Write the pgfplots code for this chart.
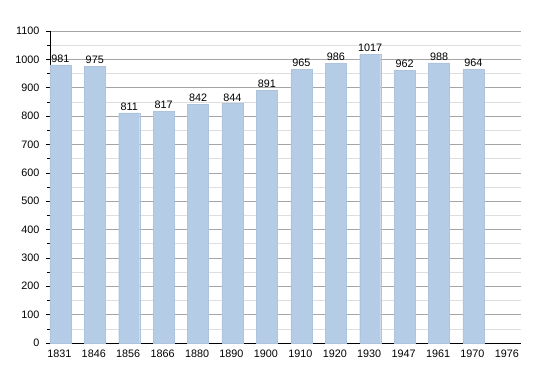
\documentclass[border=0pt]{standalone}
\usepackage{pgfplots}
\pgfplotsset{compat=1.18}
\usepackage{fontspec}
\setmainfont{Liberation Sans}
\definecolor{barblue}{RGB}{180,204,230}
\definecolor{majgrid}{RGB}{165,165,165}
\definecolor{mingrid}{RGB}{222,222,222}
\begin{document}
\begin{tikzpicture}[x=1pt,y=1pt]
\useasboundingbox (0,0) rectangle (550,373);
\begin{axis}[
  at={(50pt,30pt)}, anchor=south west,
  scale only axis, width=471pt, height=312pt,
  ymin=0, ymax=1100,
  xmin=-0.3, xmax=13.38,
  ytick={0,100,...,1100},
  minor ytick={50,150,...,1050},
  xtick={0,...,13},
  xticklabels={1831,1846,1856,1866,1880,1890,1900,1910,1920,1930,1947,1961,1970,1976},
  axis x line*=bottom, axis y line*=left,
  x axis line style={-,black,line width=0.8pt},
  y axis line style={-,black,line width=0.8pt},
  ymajorgrids, yminorgrids,
  major grid style={majgrid,line width=0.5pt},
  minor grid style={mingrid,line width=0.5pt},
  tick align=outside,
  major tick length=4pt, minor tick length=3pt,
  xtick style={draw=none},
  ytick style={black,line width=0.5pt},
  tick label style={font=\fontsize{10.8}{12}\selectfont},
  /pgf/number format/assume math mode=true,
  /pgf/number format/1000 sep={},
  yticklabel style={xshift=-3pt},
  xticklabel style={yshift=1pt, xshift=-1pt},
  ybar, bar width=21pt,
  nodes near coords,
  nodes near coords style={font=\fontsize{10.8}{12}\selectfont, /pgf/number format/1000 sep={}, /pgf/number format/assume math mode=true, yshift=-1pt},
  clip=false,
]
\addplot[fill=barblue, draw=barblue!90!gray, line width=0.3pt] coordinates {
(0,981) (1,975) (2,811) (3,817) (4,842) (5,844) (6,891) (7,965) (8,986) (9,1017) (10,962) (11,988) (12,964)
};
\end{axis}
\end{tikzpicture}
\end{document}
